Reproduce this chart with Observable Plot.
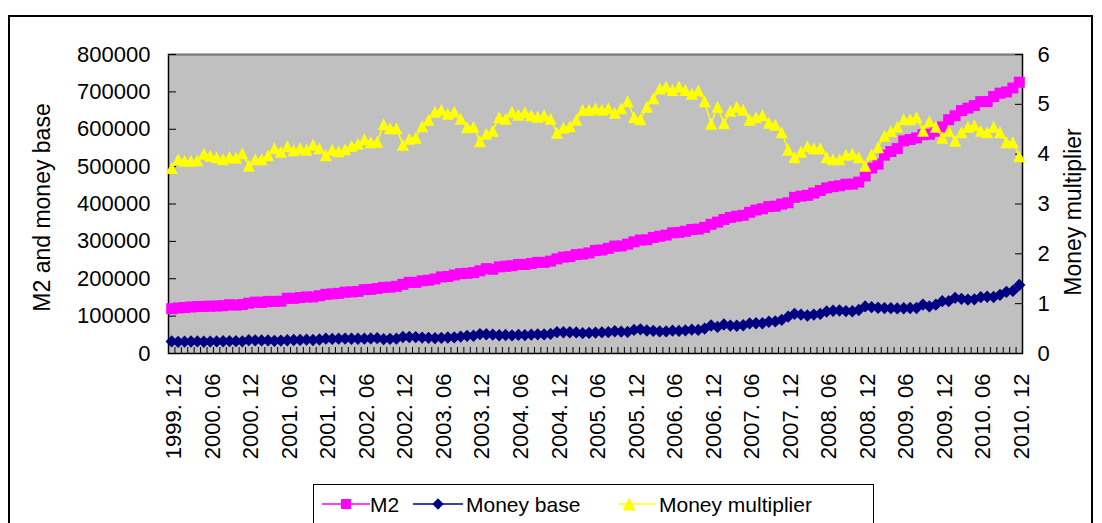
<!DOCTYPE html>
<html><head><meta charset="utf-8">
<script src="https://cdn.jsdelivr.net/npm/d3@7"></script>
<script src="https://cdn.jsdelivr.net/npm/@observablehq/plot@0.6"></script>
<style>
body{margin:0;background:#fff;font-family:"Liberation Sans",Arial,sans-serif;}
#wrap{position:relative;width:1102px;height:523px;overflow:hidden;}
#frame{position:absolute;left:8px;top:15px;width:1085px;height:600px;border:2px solid #000;box-sizing:border-box;}
#chart{position:absolute;left:0;top:0;}
#legend{position:absolute;left:313px;top:484px;width:561px;height:60px;border:1.5px solid #000;box-sizing:border-box;background:#fff;}
#legend svg{position:absolute;left:-1.5px;top:-1.5px;}
</style></head>
<body>
<div id="wrap"><div id="frame"></div><div id="chart"></div><div id="legend"></div></div>
<script>
// ---------- data ----------
const tickLabels = ["1999. 12","2000. 06","2000. 12","2001. 06","2001. 12","2002. 06","2002. 12","2003. 06","2003. 12","2004. 06","2004. 12","2005. 06","2005. 12","2006. 06","2006. 12","2007. 06","2007. 12","2008. 06","2008. 12","2009. 06","2009. 12","2010. 06","2010. 12"];
const leftTicks = [0,100000,200000,300000,400000,500000,600000,700000,800000];
const rightTicks = [0,1,2,3,4,5,6];
const seriesNames = ["M2","Money base","Money multiplier"];
const seriesColors = ["#ff00ff","#000080","#ffff00"];
const leftTitle = "M2 and money base";
const rightTitle = "Money multiplier";

const m2 = [119898,
122000,122900,124500,125600,126100,126600,127000,127900,130400,129500,131000,134610,
137500,136700,139400,139400,139800,147800,147500,149700,151400,151200,154600,158302,
159600,160900,164100,164900,166100,170900,171500,173900,176900,177400,179800,185007,
190500,190100,194500,196100,199300,204900,205900,210100,213600,214500,216400,221223,
227100,225400,231700,233400,234800,238400,238200,240900,243800,243800,247100,253208,
257700,259400,264600,266000,269200,275800,276966,281300,287400,287600,292600,298756,
303600,304300,310500,313700,316700,323000,324000,327100,331900,332700,337500,345604,
351500,358700,364100,367300,369700,377800,383900,387200,393100,394200,399800,403442,
417800,421000,423100,429300,436200,443100,446400,448800,452900,453100,458600,475167,
496100,506700,530600,540500,548300,568900,572600,576700,585400,586600,594600,606225,
625600,636100,649900,656600,663400,673900,674000,687500,696500,699800,710300,725852];

const base = [32230,
31280,31760,32170,32370,31450,31890,32230,32790,33010,32950,32590,35710,
35260,35050,35030,33830,34520,35530,36150,36330,37020,36090,37520,39770,
39020,39630,40020,39540,39450,39740,40450,40920,38460,39250,39780,44150,
44200,43900,42650,41810,41090,41900,42810,43320,45350,47250,47560,51930,
51500,50430,48880,49550,48410,49770,49210,50400,51330,51000,52460,57160,
56890,56890,56420,54400,55050,56060,56640,57170,59500,58460,57830,63030,
64600,61470,60640,58970,59090,61060,60450,61830,63700,63010,66700,74970,
71010,77640,74760,74200,75600,80550,80990,81000,84900,85880,90050,98640,
106040,103950,101710,104200,105870,112460,114460,115080,113510,112990,116400,126040,
124030,122390,121420,121190,120510,121040,121830,121670,130960,125880,130680,140000,
139960,148970,146370,144310,144850,150760,151800,151100,156870,165050,167520,183300];

const multiplier = [3.72,
3.90,3.87,3.87,3.88,4.01,3.97,3.94,3.90,3.95,3.93,4.02,3.77,
3.90,3.90,3.98,4.12,4.05,4.16,4.08,4.12,4.09,4.19,4.12,3.98,
4.09,4.06,4.10,4.17,4.21,4.30,4.24,4.25,4.60,4.52,4.52,4.19,
4.31,4.33,4.56,4.69,4.85,4.89,4.81,4.85,4.71,4.54,4.55,4.26,
4.41,4.47,4.74,4.71,4.85,4.79,4.84,4.78,4.75,4.78,4.71,4.43,
4.53,4.56,4.69,4.89,4.89,4.92,4.89,4.92,4.83,4.92,5.06,4.74,
4.70,4.95,5.12,5.32,5.36,5.29,5.36,5.29,5.21,5.28,5.06,4.61,
4.95,4.62,4.87,4.95,4.89,4.69,4.74,4.78,4.63,4.59,4.44,4.09,
3.94,4.05,4.16,4.12,4.12,3.94,3.90,3.90,3.99,4.01,3.94,3.77,
4.00,4.14,4.37,4.46,4.55,4.70,4.70,4.74,4.47,4.66,4.55,4.33,
4.47,4.27,4.44,4.55,4.58,4.47,4.44,4.55,4.44,4.24,4.24,3.96];

// month categories 1999.12 .. 2010.12
const months = [];
for (let y = 1999, m = 12; months.length < m2.length; ) {
  months.push(`${y}. ${String(m).padStart(2,"0")}`);
  m++; if (m > 12) { m = 1; y++; }
}

// ---------- chart ----------
const leftMax = 800000, rightMax = 6;
const k = leftMax / rightMax; // secondary axis mapping
const rows = months.map((mo, i) => ({i, month: mo, m2: m2[i], base: base[i], mm: multiplier[i]}));
const n = rows.length;
const bounds = d3.range(n + 1).map(j => j - 0.5);
const labelIdx = tickLabels.map(l => months.indexOf(l));

const diamond = {draw(ctx, size){ const r = Math.sqrt(size/2); ctx.moveTo(0,-r); ctx.lineTo(r,0); ctx.lineTo(0,r); ctx.lineTo(-r,0); ctx.closePath(); }};
const tri = {draw(ctx, size){ const h = Math.sqrt(size)/2; ctx.moveTo(0,-h); ctx.lineTo(h,h); ctx.lineTo(-h,h); ctx.closePath(); }};
const rFor = area => Math.sqrt(area / Math.PI);

const chart = Plot.plot({
  width: 1102, height: 478,
  marginLeft: 168, marginRight: 80, marginTop: 54, marginBottom: 125,
  style: {fontFamily: "'Liberation Sans', Arial, sans-serif", fontSize: "22px", background: "transparent", color: "#000", overflow: "visible"},
  x: {type: "linear", domain: [-0.5, n - 0.5]},
  y: {domain: [0, leftMax]},
  marks: [
    Plot.frame({fill: "#c0c0c0", stroke: "#000", strokeWidth: 1.5}),
    Plot.ruleY([leftMax], {stroke: "#808080", strokeWidth: 1.5}),
    Plot.axisY({ticks: leftTicks, tickSize: -8, tickPadding: 26, tickFormat: d => String(d), label: null}),
    Plot.axisY({anchor: "right", ticks: rightTicks.map(v => v * k), tickSize: -8, tickPadding: 23, tickFormat: d => String(Math.round(d / k)), label: null}),
    Plot.axisX({ticks: bounds, tickSize: -6, tickFormat: () => "", label: null}),
    Plot.axisX({ticks: labelIdx, tickSize: 0, tickPadding: 20, tickRotate: -90, dx: 2.5, tickFormat: i => months[i], label: null}),
    Plot.text([leftTitle], {frameAnchor: "left", rotate: -90, dx: -126, dy: 3.5, fontSize: 23, lineAnchor: "middle", textAnchor: "middle", fill: "#000"}),
    Plot.text([rightTitle], {frameAnchor: "right", rotate: -90, dx: 51, dy: 8, fontSize: 23, lineAnchor: "middle", textAnchor: "middle", fill: "#000"}),
    Plot.line(rows, {x: "i", y: "m2", stroke: seriesColors[0], strokeWidth: 1.5}),
    Plot.dot(rows, {x: "i", y: "m2", symbol: "square", r: rFor(121), fill: seriesColors[0]}),
    Plot.line(rows, {x: "i", y: "base", stroke: seriesColors[1], strokeWidth: 1.5}),
    Plot.dot(rows, {x: "i", y: "base", symbol: diamond, r: rFor(76), fill: seriesColors[1]}),
    Plot.line(rows, {x: "i", y: d => d.mm * k, stroke: seriesColors[2], strokeWidth: 1.5}),
    Plot.dot(rows, {x: "i", y: d => d.mm * k, symbol: tri, r: rFor(144), fill: seriesColors[2]})
  ]
});
document.getElementById("chart").appendChild(chart);

// ---------- legend ----------
const lg = d3.select("#legend").append("svg").attr("width", 561).attr("height", 60)
  .style("font-family", "'Liberation Sans', Arial, sans-serif").style("font-size", "21px");
const items = [
  {x1: 9, x2: 57, mx: 33, tx: 57},
  {x1: 100, x2: 150, mx: 125, tx: 153},
  {x1: 306, x2: 343, mx: 316, tx: 346}
];
const cy = 20;
items.forEach((it, j) => {
  lg.append("line").attr("x1", it.x1).attr("x2", it.x2).attr("y1", cy).attr("y2", cy).attr("stroke", seriesColors[j]).attr("stroke-width", 1.5);
  const sym = j === 0 ? d3.symbol(d3.symbolSquare, 100) : j === 1 ? d3.symbol(diamond, 64) : d3.symbol(tri, 169);
  lg.append("path").attr("d", sym()).attr("transform", `translate(${it.mx},${cy})`).attr("fill", seriesColors[j]);
  lg.append("text").attr("x", it.tx).attr("y", cy + 7.5).text(seriesNames[j]);
});
</script>
</body></html>
